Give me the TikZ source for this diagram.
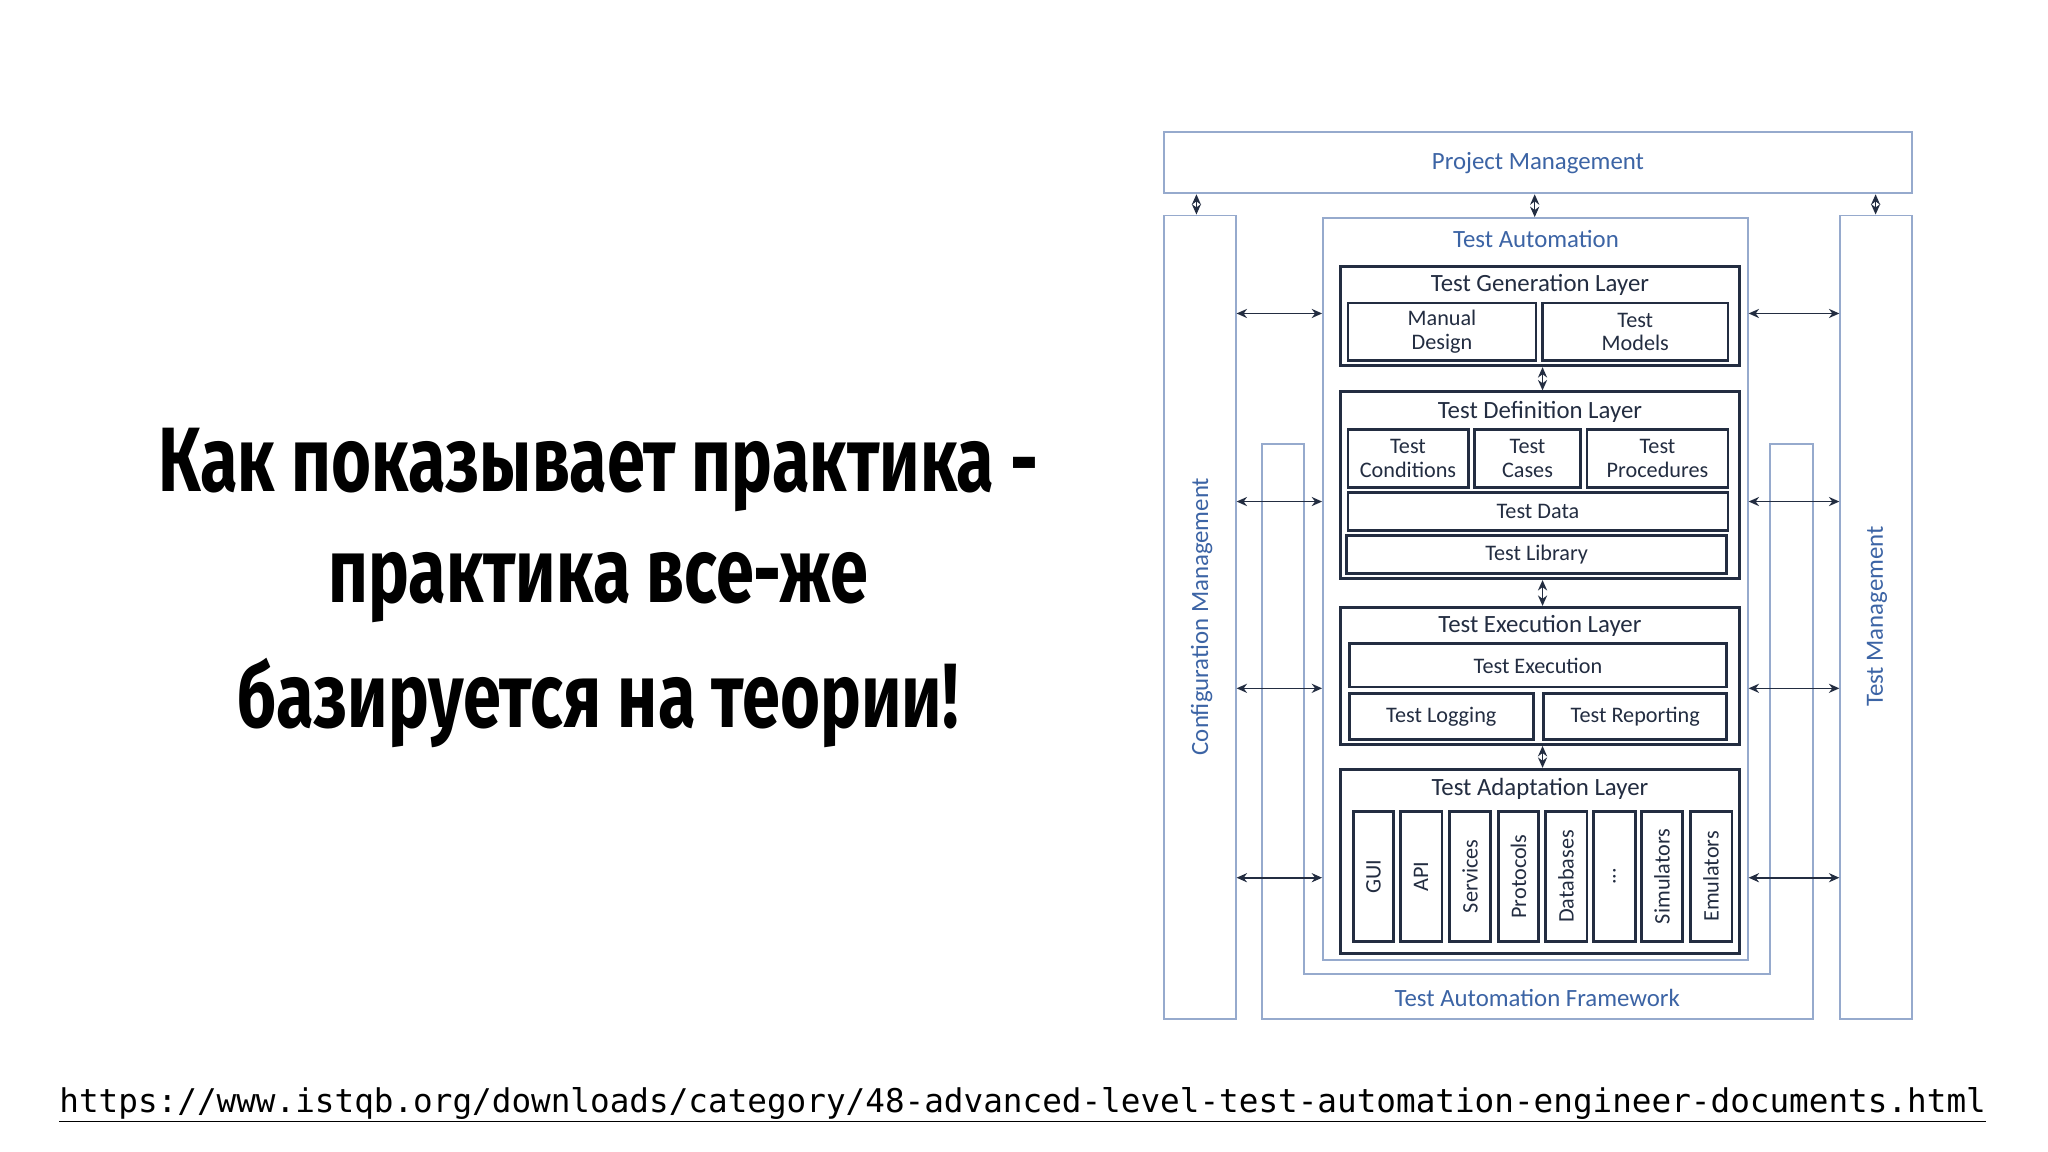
\documentclass[tikz,border=0pt]{standalone}
\usepackage{fontspec}
\setmainfont{Carlito}
\newfontfamily\titlefont{Fira Sans}
\newfontfamily\urlfont{DejaVu Sans Mono}
\usetikzlibrary{fit,arrows.meta}
\definecolor{bl}{RGB}{150,170,205}
\definecolor{bltext}{RGB}{60,100,165}
\definecolor{dk}{RGB}{35,45,65}
\tikzset{
 bbox/.style={draw=bl,line width=1.5pt,inner sep=0pt,fill=white},
 dbox/.style={draw=dk,line width=2.2pt,inner sep=0pt},
 itxt/.style={font=\fontsize{17}{18}\selectfont,align=center,text=dk,inner sep=0pt},
 ltitle/.style={font=\fontsize{19}{20}\selectfont,text=dk,anchor=north,inner sep=0pt},
 btitle/.style={font=\fontsize{19}{20}\selectfont,text=bltext,inner sep=0pt},
 arr/.style={{Stealth[length=8pt,width=7pt]}-{Stealth[length=8pt,width=7pt]},line width=1.2pt,draw=dk},
 vtext/.style={itxt,rotate=90}
}
\newcommand{\bx}[7]{\node[#2,fit={(#3,#4) (#5,#6)}] (#1) {}; \node[itxt] at (#1.center) {#7};}
\begin{document}
\begin{tikzpicture}[x=1pt,y=-1pt]
\useasboundingbox[fill=white] (0,0) rectangle (1568,882);
% left text
\node[font=\titlefont\bfseries\fontsize{70}{70}\selectfont] (t1) at (458,360) {\scalebox{0.75}[1]{Как показывает практика -}};
\node[font=\titlefont\bfseries\fontsize{70}{70}\selectfont] (t2) at (458,450) {\scalebox{0.75}[1]{практика все-же}};
\node[font=\titlefont\bfseries\fontsize{70}{70}\selectfont] (t3) at (458,538) {\scalebox{0.75}[1]{базируется на теории!}};
\node[font=\urlfont\fontsize{25}{26}\selectfont,inner sep=0pt] (url) at (783,846) {\underline{https://www.istqb.org/downloads/category/48-advanced-level-test-automation-engineer-documents.html}};
% outer blue boxes
\bx{pm}{bbox}{891}{101}{1464}{148}{}
\node[btitle] at (pm.center) {Project Management};
\bx{cm}{bbox}{891}{165}{946}{780}{}
\node[btitle,rotate=90] at (920,472) {Configuration Management};
\bx{tm}{bbox}{1409}{165}{1464}{780}{}
\node[btitle,rotate=90] at (1437,472) {Test Management};
\draw[bl,line width=1.5pt] (966,340) -- (998,340) -- (998,746) -- (1355,746) -- (1355,340) -- (1388,340) -- (1388,780) -- (966,780) -- cycle;
\node[btitle] (taf) at (1177,764) {Test Automation Framework};
\bx{ta}{bbox}{1013}{167}{1338}{735}{}
\node[btitle] at (1176,183) {Test Automation};
% layers
\bx{gen}{dbox}{1026}{204}{1332}{280}{}
\node[ltitle] at (1179,210) {Test Generation Layer};
\bx{md}{dbox}{1032}{232}{1176}{276}{Manual\\Design}
\bx{tmod}{dbox}{1181}{232}{1323}{276}{Test\\Models}
\bx{def}{dbox}{1026}{300}{1332}{443}{}
\node[ltitle] at (1179,307) {Test Definition Layer};
\bx{tc}{dbox}{1032}{329}{1124}{373}{Test\\Conditions}
\bx{tcs}{dbox}{1129}{329}{1210}{373}{Test\\Cases}
\bx{tp}{dbox}{1215}{329}{1323}{373}{Test\\Procedures}
\bx{td}{dbox}{1032}{377}{1323}{406}{Test Data}
\bx{tl}{dbox}{1031}{410}{1322}{439}{Test Library}
\bx{exl}{dbox}{1026}{465}{1332}{570}{}
\node[ltitle] at (1179,471) {Test Execution Layer};
\bx{te}{dbox}{1033}{493}{1322}{526}{Test Execution}
\bx{tlog}{dbox}{1033}{531}{1174}{566}{Test Logging}
\bx{trep}{dbox}{1182}{531}{1322}{566}{Test Reporting}
\bx{adl}{dbox}{1026}{589}{1332}{730}{}
\node[ltitle] at (1179,596) {Test Adaptation Layer};
\bx{a1}{dbox}{1036}{621}{1067}{721}{}
\bx{a2}{dbox}{1072}{621}{1104}{721}{}
\bx{a3}{dbox}{1110}{621}{1141}{721}{}
\bx{a4}{dbox}{1147}{621}{1178}{721}{}
\bx{a5}{dbox}{1183}{621}{1215}{721}{}
\bx{a6}{dbox}{1220}{621}{1252}{721}{}
\bx{a7}{dbox}{1257}{621}{1288}{721}{}
\bx{a8}{dbox}{1294}{621}{1326}{721}{}
\node[vtext] at (a1.center) {GUI};
\node[vtext] at (a2.center) {API};
\node[vtext] at (a3.center) {Services};
\node[vtext] at (a4.center) {Protocols};
\node[vtext] at (a5.center) {Databases};
\node[vtext] at (a6.center) {...};
\node[vtext] at (a7.center) {Simulators};
\node[vtext] at (a8.center) {Emulators};
% arrows
\draw[arr] (pm.south -| 916,0) -- (cm.north -| 916,0);
\draw[arr] (pm.south -| 1175,0) -- (ta.north -| 1175,0);
\draw[arr] (pm.south -| 1436,0) -- (tm.north -| 1436,0);
\draw[arr] (gen.south -| 1181,0) -- (def.north -| 1181,0);
\draw[arr] (def.south -| 1181,0) -- (exl.north -| 1181,0);
\draw[arr] (exl.south -| 1181,0) -- (adl.north -| 1181,0);
\foreach \yy in {240,384,527,672}{
 \draw[arr] (cm.east |- 0,\yy) -- (ta.west |- 0,\yy);
 \draw[arr] (ta.east |- 0,\yy) -- (tm.west |- 0,\yy);
}
\end{tikzpicture}
\end{document}
